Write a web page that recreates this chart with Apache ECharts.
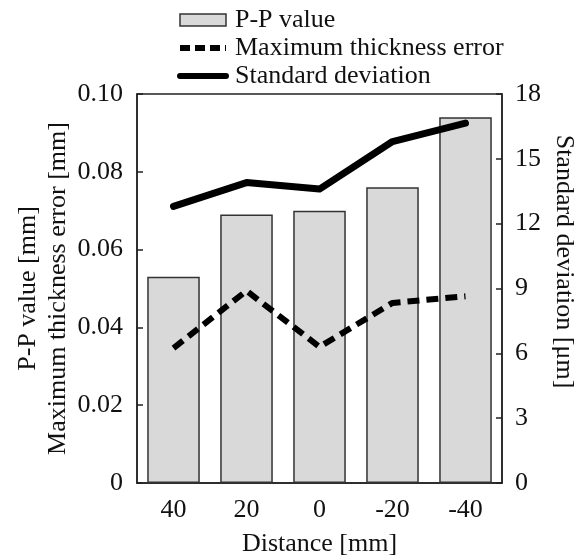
<!DOCTYPE html>
<html><head><meta charset="utf-8">
<script src="https://cdn.jsdelivr.net/npm/echarts@6/dist/echarts.min.js"></script>
<style>html,body{margin:0;padding:0;background:#fff}#c{width:580px;height:558px}</style>
</head><body><div id="c"></div>
<script>
const categories = ['40', '20', '0', '-20', '-40'];
const ppValue = [0.053, 0.069, 0.070, 0.076, 0.094];
const maxThicknessError = [0.0347, 0.0494, 0.035, 0.0463, 0.048];
const stdDeviation = [12.8, 13.9, 13.6, 15.8, 16.65];
const leftTicks = [0, 0.02, 0.04, 0.06, 0.08, 0.10];
const rightTicks = [0, 3, 6, 9, 12, 15, 18];

const FONT = 'Liberation Serif';
const FS = 26;
const INVIS = {color: 'rgba(0,0,0,0)', borderColor: 'rgba(0,0,0,0)', borderWidth: 0};
const chart = echarts.init(document.getElementById('c'));
chart.setOption({
  animation: false,
  textStyle: {fontFamily: FONT, color: '#111'},
  grid: {left: 137, right: 78, top: 94, bottom: 75, show: true, borderColor: '#222', borderWidth: 1.5,
    containLabel: false, outerBoundsMode: 'none'},
  legend: {
    orient: 'vertical', left: 172, top: 2, itemWidth: 46, itemHeight: 12, itemGap: 2,
    textStyle: {fontFamily: FONT, fontSize: FS, color: '#111', padding: [0, 0, 0, 4]},
    data: [
      {name: 'P-P value', icon: 'rect', itemStyle: {color: '#d9d9d9', borderColor: '#333', borderWidth: 1.5}},
      {name: 'Maximum thickness error', itemStyle: INVIS, lineStyle: {color: '#000', width: 6, type: [10, 5], cap: 'butt'}},
      {name: 'Standard deviation', itemStyle: INVIS, lineStyle: {color: '#000', width: 6, type: 'solid'}}
    ]
  },
  xAxis: {
    type: 'category', data: categories,
    name: 'Distance [mm]', nameLocation: 'middle', nameGap: 48, nameMoveOverlap: false,
    nameTextStyle: {fontFamily: FONT, fontSize: FS, color: '#111'},
    axisLine: {lineStyle: {color: '#222', width: 1.5}},
    axisTick: {show: false},
    axisLabel: {fontFamily: FONT, fontSize: FS, color: '#111', margin: 14}
  },
  yAxis: [
    {
      type: 'value', min: leftTicks[0], max: leftTicks[leftTicks.length - 1], interval: 0.02,
      name: 'P-P value [mm]\nMaximum thickness error [mm]', nameLocation: 'middle', nameGap: 64,
      nameMoveOverlap: false,
      nameTextStyle: {fontFamily: FONT, fontSize: FS, color: '#111', lineHeight: 30},
      axisLine: {show: true, lineStyle: {color: '#222', width: 1.5}},
      axisTick: {show: true, inside: true, length: 6, lineStyle: {color: '#222', width: 1.5}},
      axisLabel: {fontFamily: FONT, fontSize: FS, color: '#111', margin: 14,
        formatter: v => v === 0 ? '0' : v.toFixed(2)},
      splitLine: {show: false}
    },
    {
      type: 'value', min: rightTicks[0], max: rightTicks[rightTicks.length - 1], interval: 3,
      name: 'Standard deviation [μm]', nameLocation: 'middle', nameGap: 49, nameRotate: -90,
      nameMoveOverlap: false,
      nameTextStyle: {fontFamily: FONT, fontSize: FS, color: '#111', padding: [0, 54, 0, 0]},
      axisLine: {show: true, lineStyle: {color: '#222', width: 1.5}},
      axisTick: {show: true, inside: true, length: 6, lineStyle: {color: '#222', width: 1.5}},
      axisLabel: {fontFamily: FONT, fontSize: FS, color: '#111', margin: 13},
      splitLine: {show: false}
    }
  ],
  series: [
    {
      name: 'P-P value', type: 'bar', data: ppValue, barWidth: '72%', yAxisIndex: 0,
      itemStyle: {color: '#d9d9d9', borderColor: '#333', borderWidth: 1.5}
    },
    {
      name: 'Maximum thickness error', type: 'line', data: maxThicknessError, yAxisIndex: 0,
      symbol: 'none', z: 5,
      lineStyle: {color: '#000', width: 6, type: [12, 7], cap: 'butt'},
      itemStyle: {color: '#000'}
    },
    {
      name: 'Standard deviation', type: 'line', data: stdDeviation, yAxisIndex: 1,
      symbol: 'none', z: 5,
      lineStyle: {color: '#000', width: 7, cap: 'round', join: 'round'},
      itemStyle: {color: '#000'}
    }
  ]
});
</script></body></html>
